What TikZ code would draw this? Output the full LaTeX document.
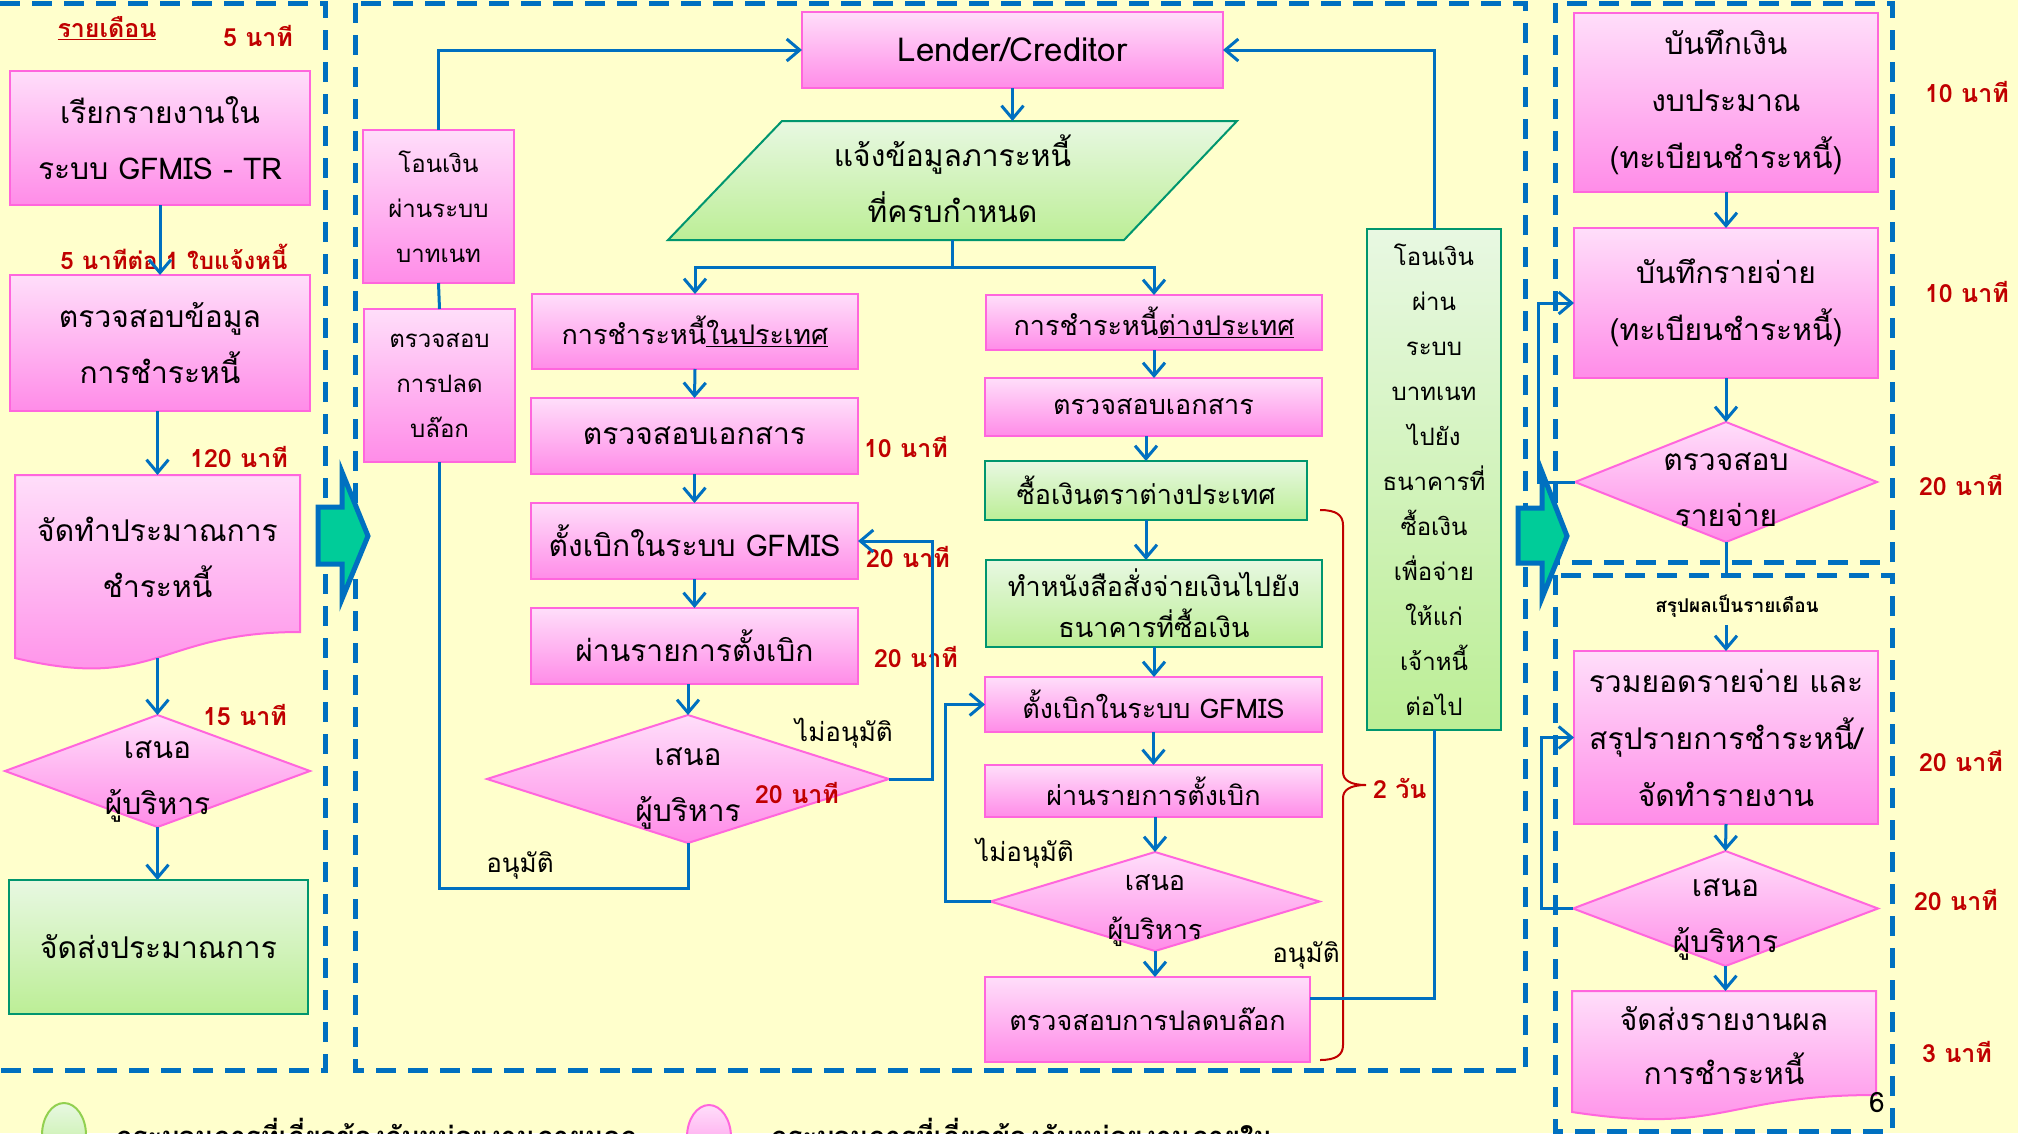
\documentclass[tikz,border=0pt]{standalone}
\usepackage{fontspec}
\setmainfont{Loma}[Script=Thai]
\usetikzlibrary{arrows.meta,shapes.geometric}
\definecolor{bg}{RGB}{255,255,204}
\definecolor{lblue}{RGB}{0,112,192}
\definecolor{pinkT}{RGB}{255,222,250}
\definecolor{pinkB}{RGB}{255,140,232}
\definecolor{pinkD}{RGB}{255,102,221}
\definecolor{grT}{RGB}{232,248,226}
\definecolor{grB}{RGB}{188,238,150}
\definecolor{grD}{RGB}{0,150,110}
\definecolor{grL}{RGB}{146,208,80}
\definecolor{redA}{RGB}{192,0,0}
\definecolor{arrfill}{RGB}{0,204,153}
\begin{document}
\begin{tikzpicture}[x=1pt,y=-1pt,
  every node/.style={inner sep=0pt, outer sep=0pt},
  pbox/.style={draw=pinkD, line width=2pt, top color=pinkT, bottom color=pinkB, align=center},
  gbox/.style={draw=grD, line width=2pt, top color=grT, bottom color=grB, align=center},
  pdia/.style={diamond, draw=pinkD, line width=2pt, top color=pinkT, bottom color=pinkB},
  fA/.style={font=\fontsize{30}{56}\selectfont},
  fB/.style={font=\fontsize{27}{41}\selectfont},
  fC/.style={font=\fontsize{24}{45}\selectfont},
  txt/.style={align=center},
  tm/.style={text=redA, font=\bfseries\fontsize{25}{30}\selectfont},
  lab/.style={font=\fontsize{26}{30}\selectfont},
  arr/.style={draw=lblue, line width=3pt, -{Straight Barb[length=13pt,width=22pt]}},
  conn/.style={draw=lblue, line width=3pt},
  panel/.style={draw=lblue, line width=5pt, dash pattern=on 20pt off 12pt},
  blk/.style={fill=arrfill, draw=lblue, line width=5pt, line join=miter},
]
\path[use as bounding box, clip] (0,0) rectangle (2018,1133);
\fill[bg] (0,0) rectangle (2018,1133);

% panels
\draw[panel] (0,3) -- (325,3) -- (325,1070) -- (0,1070);
\draw[panel] (355,3) rectangle (1525,1070);
\draw[panel] (1555,3) rectangle (1892,562);
\draw[panel] (1555,575) rectangle (1892,1131);

% block arrows
\draw[blk] (318,507) -- (342,507) -- (342,472) -- (368,536) -- (342,599) -- (342,564) -- (318,564) -- cycle;
\draw[blk] (1518,508) -- (1542,508) -- (1542,472) -- (1567,536) -- (1542,598) -- (1542,563) -- (1518,563) -- cycle;

% ---------- left panel ----------
\node[text=redA, font=\bfseries\fontsize{25}{30}\selectfont] (monthly) at (107,28) {\underline{รายเดือน}};
\node[tm] (t1) at (258,36) {5 นาที};
\node[pbox, fA, minimum width=300, minimum height=134] (b1) at (160,138) {เรียกรายงานใน\\ระบบ GFMIS - TR};
\node[tm, font=\bfseries\fontsize{24}{30}\selectfont] (t2) at (174,257) {5 นาทีต่อ 1 ใบแจ้งหนี้};
\node[pbox, fA, minimum width=300, minimum height=136] (b2) at (160,343) {ตรวจสอบข้อมูล\\การชำระหนี้};
\node[tm] (t3) at (239,457) {120 นาที};
\shade[draw=pinkD, line width=2pt, top color=pinkT, bottom color=pinkB]
  (15,475) -- (300,475) -- (300,632) .. controls (157.5,632) and (157.5,692) .. (15,658) -- cycle;
\coordinate (doc1n) at (157.5,475);
\coordinate (doc1s) at (157.5,658);
\node[txt, fA] (doc1) at (157.5,557) {จัดทำประมาณการ\\ชำระหนี้};
\node[tm] (t4) at (245,715) {15 นาที};
\node[pdia, minimum width=305, minimum height=112] (d1) at (157.5,771) {};
\node[txt, fA] (d1t) at (157.5,782) {เสนอ\\ผู้บริหาร};
\node[gbox, fA, minimum width=299, minimum height=134] (g1) at (158.5,947) {จัดส่งประมาณการ};

\draw[arr] (b1.south) -- (b2.north);
\draw[arr] (b2.south -| doc1n) -- (doc1n);
\draw[arr] (doc1s) -- (d1.north);
\draw[arr] (d1.south) -- (d1.south |- g1.north);

% ---------- middle panel ----------
\node[pbox, font=\fontsize{33}{38}\selectfont, minimum width=421, minimum height=76] (lender) at (1012.5,50) {Lender/Creditor};
\shade[draw=grD, line width=2pt, top color=grT, bottom color=grB]
  (668,240) -- (782,121) -- (1237,121) -- (1124,240) -- cycle;
\node[txt, fA, minimum width=456, minimum height=119] (para) at (952.5,180.5) {};
\node[txt, fA] (parat) at (952.5,179) {แจ้งข้อมูลภาระหนี้\\ที่ครบกำหนด};

\node[pbox, fC, minimum width=151, minimum height=153] (bt) at (438.5,206.5) {โอนเงิน\\ผ่านระบบ\\บาทเนท};
\node[pbox, fC, minimum width=151, minimum height=153] (bu) at (439.5,385.5) {ตรวจสอบ\\การปลด\\บล๊อก};

\node[pbox, fB, minimum width=326, minimum height=75] (m1) at (695,331.5) {การชำระหนี้\underline{ในประเทศ}};
\node[pbox, fA, minimum width=327, minimum height=76] (m2) at (694.5,436) {ตรวจสอบเอกสาร};
\node[pbox, fA, minimum width=327, minimum height=76] (m3) at (694.5,541) {ตั้งเบิกในระบบ GFMIS};
\node[pbox, fA, minimum width=327, minimum height=76] (m4) at (694.5,646) {ผ่านรายการตั้งเบิก};
\node[pdia, minimum width=402, minimum height=128] (md) at (688,779) {};
\node[txt, fA] (mdt) at (688,789) {เสนอ\\ผู้บริหาร};
\node[tm, anchor=west] (t5) at (864,447) {10 นาที};
\node[tm, anchor=west] (t6) at (866,557) {20 นาที};
\node[tm, anchor=west] (t7) at (874,657) {20 นาที};
\node[tm] (t8) at (797,793) {20 นาที};
\node[lab] (na1) at (844,733) {ไม่อนุมัติ};
\node[lab] (ap1) at (520,865) {อนุมัติ};

\node[pbox, fB, minimum width=336, minimum height=55] (r1) at (1154,322.5) {การชำระหนี้\underline{ต่างประเทศ}};
\node[pbox, fB, minimum width=337, minimum height=58] (r2) at (1153.5,407) {ตรวจสอบเอกสาร};
\node[gbox, fB, minimum width=322, minimum height=59] (r3) at (1146,490.5) {ซื้อเงินตราต่างประเทศ};
\node[gbox, fB, minimum width=336, minimum height=87] (r4) at (1154,603.5) {ทำหนังสือสั่งจ่ายเงินไปยัง\\ธนาคารที่ซื้อเงิน};
\node[pbox, fB, minimum width=337, minimum height=55] (r5) at (1153.5,704.5) {ตั้งเบิกในระบบ GFMIS};
\node[pbox, fB, minimum width=337, minimum height=52] (r6) at (1153.5,791) {ผ่านรายการตั้งเบิก};
\node[pdia, minimum width=329, minimum height=99] (rd) at (1155,901.5) {};
\node[txt, fB, font=\fontsize{27}{49}\selectfont] (rdt) at (1155,911) {เสนอ\\ผู้บริหาร};
\node[pbox, fB, minimum width=325, minimum height=85] (r7) at (1147.5,1019.5) {ตรวจสอบการปลดบล๊อก};
\node[lab] (na2) at (1025,853) {ไม่อนุมัติ};
\node[lab] (ap2) at (1306,955) {อนุมัติ};
\node[gbox, fC, minimum width=134, minimum height=501] (gt) at (1434,479.5) {โอนเงิน\\ผ่าน\\ระบบ\\บาทเนท\\ไปยัง\\ธนาคารที่\\ซื้อเงิน\\เพื่อจ่าย\\ให้แก่\\เจ้าหนี้\\ต่อไป};

\draw[redA, line width=2pt] (1320,510) .. controls (1336,510) and (1343,515) .. (1343,525) -- (1343,772)
  .. controls (1343,780) and (1350,785) .. (1366,785)
  .. controls (1350,785) and (1343,790) .. (1343,798) -- (1343,1045)
  .. controls (1343,1055) and (1336,1060) .. (1320,1060);
\node[tm, anchor=west] (twoday) at (1373,788) {2 วัน};

% middle connectors
\draw[arr] (bt.north) |- (lender.west);
\draw[conn] (bt.south) -- (bu.north);
\draw[arr] (lender.south) -- (lender.south |- para.north);
\draw[conn] (para.south) -- ++(0,27) coordinate (psplit);
\draw[arr] (psplit) -| (m1.north);
\draw[arr] (psplit) -| (r1.north);
\draw[arr] (m1.south) -- (m2.north);
\draw[arr] (m2.south) -- (m3.north);
\draw[arr] (m3.south) -- (m4.north);
\draw[arr] (m4.south -| md.north) -- (md.north);
\draw[arr] (md.east) -- ++(43,0) |- (m3.east);
\draw[conn] (md.south) -- ++(0,45) -| (bu.south);

\draw[arr] (r1.south) -- (r1.south |- r2.north);
\draw[arr] (r2.south -| r3.north) -- (r3.north);
\draw[arr] (r3.south) -- (r3.south |- r4.north);
\draw[arr] (r4.south) -- (r4.south |- r5.north);
\draw[arr] (r5.south) -- (r6.north);
\draw[arr] (r6.south -| rd.north) -- (rd.north);
\draw[arr] (rd.west) -- ++(-45,0) |- (r5.west);
\draw[arr] (rd.south) -- (rd.south |- r7.north);
\draw[conn] ([yshift=21pt]r7.east) -| (gt.south);
\draw[arr] (gt.north) |- (lender.east);

% ---------- right panel ----------
\node[pbox, font=\fontsize{30}{57}\selectfont, minimum width=304, minimum height=179] (p1) at (1726,102.5) {บันทึกเงิน\\งบประมาณ\\(ทะเบียนชำระหนี้)};
\node[pbox, font=\fontsize{30}{57}\selectfont, minimum width=304, minimum height=150] (p2) at (1726,303) {บันทึกรายจ่าย\\(ทะเบียนชำระหนี้)};
\node[pdia, minimum width=302, minimum height=120] (pd1) at (1726,482) {};
\node[txt, fA] (pd1t) at (1726,490) {ตรวจสอบ\\รายจ่าย};
\coordinate (pd1end) at (1726,575);
\node[font=\bfseries\fontsize{19}{22}\selectfont] (sum) at (1737,606) {สรุปผลเป็นรายเดือน};
\node[pbox, font=\fontsize{30}{57}\selectfont, minimum width=304, minimum height=173] (p3) at (1726,737.5) {รวมยอดรายจ่าย และ\\สรุปรายการชำระหนี้/\\จัดทำรายงาน};
\node[pdia, minimum width=305, minimum height=115] (pd2) at (1725.5,908.5) {};
\node[txt, fA] (pd2t) at (1725.5,920) {เสนอ\\ผู้บริหาร};
\shade[draw=pinkD, line width=2pt, top color=pinkT, bottom color=pinkB]
  (1572,991) -- (1876,991) -- (1876,1095) .. controls (1724,1095) and (1724,1135) .. (1572,1112) -- cycle;
\coordinate (doc2n) at (1725.5,991);
\node[txt, font=\fontsize{30}{54}\selectfont] (doc2) at (1724,1046) {จัดส่งรายงานผล\\การชำระหนี้};
\node[font=\fontsize{28}{30}\selectfont] (pgno) at (1877,1103) {6};

\node[tm, anchor=west] (t9) at (1925,92) {10 นาที};
\node[tm, anchor=west] (t10) at (1925,292) {10 นาที};
\node[tm, anchor=west] (t11) at (1919,485) {20 นาที};
\node[tm, anchor=west] (t12) at (1919,761) {20 นาที};
\node[tm, anchor=west] (t13) at (1914,900) {20 นาที};
\node[tm, anchor=west] (t14) at (1922,1052) {3 นาที};

\draw[arr] (p1.south) -- (p2.north);
\draw[arr] (p2.south) -- (pd1.north);
\draw[arr] (pd1.west) -- ++(-37,0) |- (p2.west);
\draw[conn] (pd1.south) -- (pd1end);
\draw[arr] (sum.south -| p3.north) ++(0,8) -- (p3.north);
\draw[arr] (p3.south) -- (pd2.north);
\draw[arr] (pd2.west) -- ++(-32,0) |- (p3.west);
\draw[arr] (pd2.south) -- (doc2n);

% ---------- legend ----------
\shade[draw=grL, line width=2pt, top color=grT, bottom color=grB] (64,1135) ellipse [x radius=22, y radius=32];
\shade[draw=pinkD, line width=2pt, top color=pinkT, bottom color=pinkB] (709,1137) ellipse [x radius=22, y radius=32];
\node[anchor=base west, font=\bfseries\fontsize{27.5}{32}\selectfont] (leg1) at (116,1146) {กระบวนการที่เกี่ยวข้องกับหน่วยงานภายนอก};
\node[anchor=base west, font=\bfseries\fontsize{27.5}{32}\selectfont] (leg2) at (771,1146) {กระบวนการที่เกี่ยวข้องกับหน่วยงานภายใน};
\end{tikzpicture}
\end{document}
